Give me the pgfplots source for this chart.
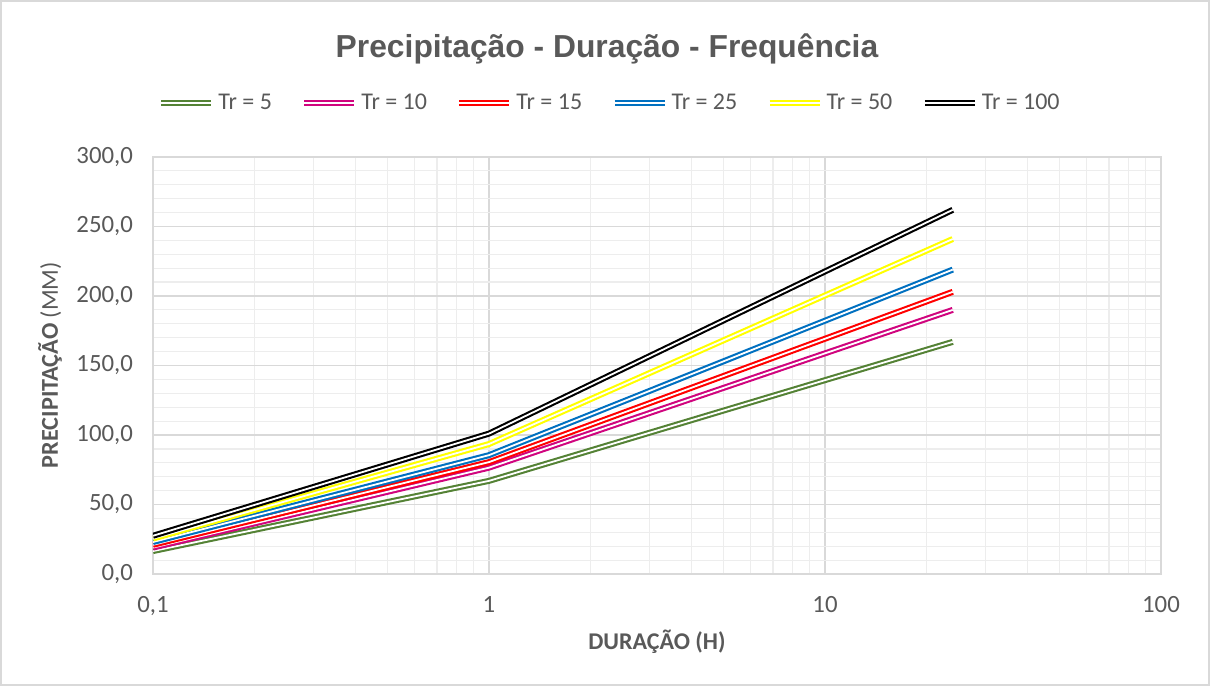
\documentclass[border=0pt]{standalone}
\usepackage{fontspec}
\setmainfont{Carlito}
\newfontfamily\arialfont{Liberation Sans}[BoldFont={Liberation Sans Bold}]
\usepackage{pgfplots}
\pgfplotsset{compat=1.18}
\definecolor{txt}{HTML}{595959}
\definecolor{cgreen}{HTML}{548235}
\definecolor{cmag}{HTML}{D0047E}
\definecolor{cred}{HTML}{FF0000}
\definecolor{cblue}{HTML}{0070C0}
\definecolor{cyel}{HTML}{FFFF00}
\definecolor{majg}{HTML}{D9D9D9}
\definecolor{ming}{HTML}{EDEDED}
\begin{document}
\begin{tikzpicture}[x=1pt,y=1pt]
\path[use as bounding box] (0,0) rectangle (605,343);
\draw[majg, line width=0.6pt] (0.5,0.5) rectangle (604.5,342.5);
\node[text=txt] at (303.5,318.5) {\arialfont\bfseries\fontsize{15.9}{18}\selectfont Precipitação - Duração - Frequência};
\begin{axis}[
  at={(76.5pt,56pt)}, anchor=south west,
  scale only axis, width=504pt, height=208.5pt,
  xmode=log, xmin=0.1, xmax=100, ymin=0, ymax=300,
  xtick={0.1,1,10,100}, xticklabels={{0,1},1,10,100},
  ytick={0,50,...,300},
  minor ytick={10,20,30,40,60,70,80,90,110,120,130,140,160,170,180,190,210,220,230,240,260,270,280,290},
  grid=both,
  major grid style={majg, line width=0.6pt},
  minor grid style={ming, line width=0.6pt},
  axis line style={majg, line width=0.6pt},
  major tick length=0pt, minor tick length=0pt,
  tick label style={font=\fontsize{12.4}{14}\selectfont, text=txt},
  /pgf/number format/assume math mode=true,
  yticklabel style={/pgf/number format/.cd, fixed, fixed zerofill, precision=1, use comma, /tikz/.cd, anchor=east, xshift=-6.5pt},
  xticklabel style={yshift=-7.5pt},
  every axis y label/.style={at={(axis description cs:-0.1022,0.501)}, rotate=90, anchor=center, font=\fontsize{12.1}{14}\selectfont, text=txt},
  every axis x label/.style={at={(axis description cs:0.5,-0.163)}, anchor=center, font=\fontsize{12}{14}\selectfont, text=txt},
  ylabel={\textbf{PRECIPITAÇÃO} (MM)},
  xlabel={\textbf{DURAÇÃO (H)}},
  legend columns=6,
  legend style={at={(rel axis cs:0.4544,1.1295)}, anchor=center, draw=none, fill=none,
    font=\fontsize{12}{14}\selectfont, text=txt,
    /tikz/every even column/.append style={column sep=12.7pt}},
  legend image code/.code={\draw[#1] (0pt,0pt) -- (25pt,0pt);},
  every axis plot/.append style={line width=1.05pt, double=white, double distance=0.9pt},
]
\addplot[cgreen] coordinates {(0.1,16.5) (1,67) (24,167)};
\addlegendentry{Tr = 5}
\addplot[cmag] coordinates {(0.1,19) (1,76.5) (24,190)};
\addlegendentry{Tr = 10}
\addplot[cred] coordinates {(0.1,21) (1,80.5) (24,203)};
\addlegendentry{Tr = 15}
\addplot[cblue] coordinates {(0.1,23) (1,85.5) (24,219)};
\addlegendentry{Tr = 25}
\addplot[cyel] coordinates {(0.1,25.5) (1,93.5) (24,241)};
\addlegendentry{Tr = 50}
\addplot[black] coordinates {(0.1,27.5) (1,101) (24,262)};
\addlegendentry{Tr = 100}
\end{axis}
\end{tikzpicture}
\end{document}
